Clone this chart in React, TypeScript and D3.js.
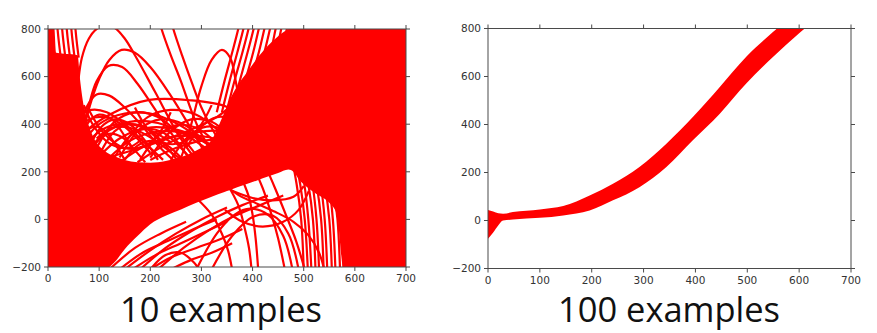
import React from "react";
import * as d3 from "d3";

type Pt = [number, number];

const xTicks = [0, 100, 200, 300, 400, 500, 600, 700];
const yTicks = [-200, 0, 200, 400, 600, 800];
const titles = ["10 examples", "100 examples"];

// ---------- Left panel (10 examples): solid mass of overlapping fits ----------
const denseX = [0, 12, 16, 58, 62, 68, 75, 90, 110, 130, 150, 175, 200, 230, 260, 290, 320, 345, 355, 370, 390, 410, 430, 450, 470, 480, 490, 510, 530, 550, 565, 578, 600, 700];
const denseUpper = [810, 810, 700, 690, 600, 500, 430, 340, 290, 265, 250, 240, 238, 245, 262, 290, 335, 450, 500, 560, 620, 680, 730, 770, 800, 810, 810, 810, 810, 810, 810, 810, 810, 810];
const denseLower = [-210, -210, -210, -210, -210, -210, -210, -210, -210, -180, -125, -70, -20, 15, 42, 70, 95, 115, 122, 135, 150, 165, 180, 195, 210, 200, 170, 130, 100, 70, 20, -210, -210, -210];

// individual fits visible in the white gaps
const archFits: Pt[][] = [
  [[50, 420], [58, 560], [66, 677], [80, 760], [95, 800], [111, 812], [130, 805], [150, 760], [170, 690], [209, 537], [255, 355], [290, 250], [320, 190]],
  [[70, 380], [85, 500], [100, 590], [120, 670], [144, 712], [170, 700], [200, 640], [240, 520], [280, 380], [310, 270], [335, 200]],
  [[68, 380], [80, 480], [95, 580], [118, 645], [145, 640], [175, 570], [210, 460], [245, 350], [275, 260]],
  [[62, 380], [75, 470], [95, 525], [120, 520], [150, 470], [185, 390], [220, 300], [250, 240]],
  [[255, 230], [270, 320], [285, 440], [300, 560], [320, 670], [340, 712], [356, 680], [368, 570], [380, 430], [392, 280], [400, 200]],
  [[212, 880], [222, 800], [240, 690], [260, 580], [281, 453], [296, 376], [320, 290], [350, 220]],
  [[235, 880], [245, 800], [262, 690], [282, 570], [300, 470], [316, 400], [338, 320], [365, 250]],
];

const latticeFits: Pt[][] = [
  [[60, 300], [100, 400], [150, 445], [200, 445], [250, 405], [300, 335], [340, 265], [370, 210]],
  [[65, 250], [110, 360], [160, 410], [215, 405], [265, 360], [315, 290], [355, 230]],
  [[85, 230], [140, 340], [195, 385], [255, 375], [305, 330], [350, 270], [385, 220]],
  [[140, 240], [195, 315], [255, 350], [315, 345], [365, 305], [405, 250]],
  [[58, 430], [85, 460], [115, 450], [150, 400], [190, 320], [225, 250]],
  [[175, 240], [235, 320], [290, 365], [340, 370], [380, 335], [420, 280]],
  [[95, 340], [125, 385], [160, 385], [200, 345], [245, 275], [280, 225]],
  [[60, 350], [120, 440], [198, 502], [280, 500], [348, 474], [385, 420], [410, 350]],
  [[70, 300], [95, 360], [125, 395], [160, 400], [200, 375], [240, 325]],
  [[120, 260], [160, 330], [205, 365], [260, 365], [310, 320]],
  [[200, 250], [250, 300], [300, 330], [350, 335], [400, 310]],
  [[60, 380], [80, 420], [110, 430], [140, 405], [170, 350], [200, 280]],
  [[100, 250], [180, 300], [260, 360], [330, 430], [370, 500]],
  [[60, 330], [80, 410], [100, 440], [125, 420], [150, 350], [170, 280]],
  [[80, 300], [105, 390], [130, 420], [160, 400], [190, 330], [215, 250]],
  [[100, 270], [130, 370], [160, 400], [195, 380], [230, 310], [255, 240]],
  [[130, 260], [160, 350], [190, 380], [225, 365], [260, 300], [285, 240]],
  [[140, 260], [180, 380], [220, 420], [265, 400], [305, 330], [335, 260]],
  [[180, 250], [215, 350], [250, 395], [290, 385], [325, 330], [355, 260]],
  [[200, 260], [240, 370], [280, 420], [320, 410], [355, 350], [380, 280]],
  [[240, 250], [275, 350], [310, 390], [345, 375], [375, 320]],
  [[75, 260], [100, 335], [120, 360], [145, 345], [170, 290], [190, 240]],
  [[62, 320], [75, 370], [90, 390], [110, 375], [130, 320], [150, 250]],
  [[90, 280], [130, 410], [170, 450], [215, 430], [255, 360], [290, 270]],
  [[150, 250], [175, 310], [200, 330], [230, 315], [260, 260]],
  [[270, 300], [300, 390], [330, 430], [360, 420], [385, 370]],
  [[150, 320], [195, 430], [240, 460], [290, 440], [335, 370], [365, 300]],
  [[80, 460], [110, 360], [150, 300], [190, 310], [220, 370], [240, 450]],
  [[170, 470], [195, 380], [230, 320], [270, 330], [300, 400], [320, 480]],
  [[70, 480], [90, 390], [120, 320], [155, 300], [185, 340]],
];

const wallFits: Pt[][] = [
  [[18, 815], [21, 750], [25, 680]],
  [[27, 815], [30, 750], [34, 680]],
  [[36, 815], [39, 750], [43, 680]],
  [[45, 815], [48, 750], [52, 680]],
  [[53, 815], [56, 750], [60, 680]],
];

const risingFits: Pt[][] = [
  [[330, 450], [345, 580], [360, 700], [372, 800], [378, 860]],
  [[340, 450], [355, 580], [370, 700], [382, 800], [388, 860]],
  [[350, 460], [365, 585], [380, 700], [392, 800], [398, 860]],
  [[362, 480], [376, 590], [390, 700], [402, 800], [408, 860]],
  [[374, 500], [388, 600], [401, 700], [412, 800], [418, 860]],
  [[386, 520], [400, 610], [412, 700], [423, 800], [429, 860]],
  [[398, 540], [412, 620], [424, 710], [434, 800], [440, 860]],
  [[410, 560], [424, 630], [436, 710], [445, 800], [451, 860]],
  [[422, 580], [436, 640], [448, 720], [456, 800], [462, 860]],
  [[434, 600], [448, 650], [460, 730], [467, 800], [473, 860]],
];

const lowerFits: Pt[][] = [
  [[120, -210], [170, -120], [220, -60], [270, -10]],
  [[140, -210], [185, -140], [235, -90], [285, -40], [330, 0]],
  [[150, -210], [200, -130], [250, -60], [300, 0], [350, 50]],
  [[165, -210], [210, -150], [260, -100], [310, -50], [350, -10]],
  [[180, -210], [230, -120], [280, -50], [330, 10], [380, 60], [430, 100]],
  [[200, -210], [240, -160], [290, -120], [340, -80], [380, -40]],
  [[200, -210], [230, -150], [260, -140], [285, -180], [295, -210]],
  [[215, -210], [265, -120], [315, -45], [365, 15], [415, 60], [460, 100]],
  [[240, -210], [280, -170], [320, -140], [360, -100]],
  [[290, -210], [330, -60], [365, 20], [395, 45], [430, 20], [460, -70], [478, -210]],
  [[320, -210], [360, -70], [400, 10], [440, 15], [470, -60], [490, -210]],
  [[330, 175], [372, 103], [410, 65], [444, 32], [480, -10], [509, -66], [530, -140], [540, -210]],
  [[375, 190], [392, 100], [400, 20], [406, -80], [411, -210]],
  [[400, 230], [420, 130], [437, 20], [450, -80], [463, -210]],
  [[420, 250], [444, 131], [465, 20], [485, -90], [502, -210]],
  [[350, 150], [372, 60], [385, -40], [393, -120], [398, -210]],
  [[290, 90], [320, 20], [340, -60], [352, -130], [360, -210]],
  [[346, 40], [380, -10], [420, -30], [460, -10], [490, 40], [510, 120]],
  [[360, 120], [400, 90], [440, 80], [480, 95], [500, 140]],
];

const plungeFits: Pt[][] = [
  [[455, 420], [472, 300], [486, 150], [495, 0], [500, -210]],
  [[462, 430], [479, 300], [493, 150], [502, 0], [508, -210]],
  [[470, 440], [487, 300], [501, 150], [509, 0], [515, -210]],
  [[478, 450], [495, 300], [509, 150], [518, 0], [523, -210]],
  [[486, 460], [503, 300], [517, 150], [525, 0], [530, -210]],
  [[494, 470], [511, 300], [525, 150], [534, 0], [539, -210]],
  [[502, 480], [519, 300], [533, 150], [541, 0], [546, -210]],
  [[510, 490], [527, 300], [541, 150], [550, 0], [555, -210]],
  [[518, 500], [535, 300], [549, 150], [557, 0], [562, -210]],
  [[526, 510], [543, 300], [557, 150], [566, 0], [571, -210]],
  [[534, 520], [551, 300], [565, 150], [573, 0], [578, -210]],
];

// ---------- Right panel (100 examples): tight band of fits ----------
const bandX = [0, 10, 20, 29, 48, 100, 145, 196, 241, 292, 344, 395, 447, 498, 550, 600, 640];
const bandUpper = [44, 38, 30, 28, 35, 46, 60, 104, 153, 223, 320, 431, 556, 682, 786, 880, 940];
const bandLower = [-76, -50, -20, 0, 4, 11, 21, 42, 84, 139, 223, 334, 445, 571, 682, 780, 850];

const RED = "#ff0000";
const AXIS = "#4a4a4a";

const fmt = (t: number) => (t < 0 ? "\u2212" + Math.abs(t) : String(t));

type Scale = d3.ScaleLinear<number, number>;

function Axes({ x, y }: { x: Scale; y: Scale }) {
  const [x0, x1] = x.range();
  const [yb, yt] = y.range();
  return (
    <g>
      <rect x={x0} y={yt} width={x1 - x0} height={yb - yt} fill="none" stroke={AXIS} strokeWidth={1} />
      {xTicks.map((t) => (
        <g key={"x" + t}>
          <line x1={x(t)} x2={x(t)} y1={yb} y2={yb + 4} stroke={AXIS} />
          <line x1={x(t)} x2={x(t)} y1={yt} y2={yt - 4} stroke={AXIS} />
          <text x={x(t)} y={yb + 15} textAnchor="middle" fontSize={10.5} fill="#333" fontFamily="DejaVu Sans">
            {fmt(t)}
          </text>
        </g>
      ))}
      {yTicks.map((t) => (
        <g key={"y" + t}>
          <line x1={x0 - 4} x2={x0} y1={y(t)} y2={y(t)} stroke={AXIS} />
          <line x1={x1} x2={x1 + 4} y1={y(t)} y2={y(t)} stroke={AXIS} />
          <text x={x0 - 7} y={y(t) + 3.8} textAnchor="end" fontSize={10.5} fill="#333" fontFamily="DejaVu Sans">
            {fmt(t)}
          </text>
        </g>
      ))}
    </g>
  );
}

export default function App() {
  const xL = d3.scaleLinear().domain([0, 700]).range([48, 406]);
  const yL = d3.scaleLinear().domain([-200, 800]).range([267, 29]);
  const xR = d3.scaleLinear().domain([0, 700]).range([488, 851]);
  const yR = d3.scaleLinear().domain([-200, 800]).range([268.5, 28.5]);

  const denseArea = d3
    .area<number>()
    .x((d) => xL(d))
    .y0((_, i) => yL(denseLower[i]))
    .y1((_, i) => yL(denseUpper[i]))
    .curve(d3.curveMonotoneX);

  const fitLine = d3
    .line<Pt>()
    .x((d) => xL(d[0]))
    .y((d) => yL(d[1]))
    .curve(d3.curveCatmullRom.alpha(0.5));

  const bandArea = d3
    .area<number>()
    .x((d) => xR(d))
    .y0((_, i) => yR(bandLower[i]))
    .y1((_, i) => yR(bandUpper[i]))
    .curve(d3.curveMonotoneX);

  const allFits = [...archFits, ...latticeFits, ...wallFits, ...risingFits, ...lowerFits, ...plungeFits];

  return (
    <svg width={877} height={333} style={{ position: "absolute", left: 0, top: 0, background: "#fff" }}>
      <defs>
        <clipPath id="clipL">
          <rect x={48} y={29} width={358} height={238} />
        </clipPath>
        <clipPath id="clipR">
          <rect x={488} y={28.5} width={363} height={240} />
        </clipPath>
      </defs>
      <rect x={0} y={0} width={877} height={333} fill="#fff" />

      <g clipPath="url(#clipL)">
        <path d={denseArea(denseX) || ""} fill={RED} />
        {allFits.map((pts, i) => (
          <path key={i} d={fitLine(pts) || ""} fill="none" stroke={RED} strokeWidth={2.2} />
        ))}
      </g>
      <Axes x={xL} y={yL} />

      <g clipPath="url(#clipR)">
        <path d={bandArea(bandX) || ""} fill={RED} />
      </g>
      <Axes x={xR} y={yR} />

      <text x={221} y={322} textAnchor="middle" fontFamily="Open Sans" fontSize={34} fill="#111" textLength={202} lengthAdjust="spacingAndGlyphs">
        {titles[0]}
      </text>
      <text x={669} y={322} textAnchor="middle" fontFamily="Open Sans" fontSize={34} fill="#111" textLength={222} lengthAdjust="spacingAndGlyphs">
        {titles[1]}
      </text>
    </svg>
  );
}
